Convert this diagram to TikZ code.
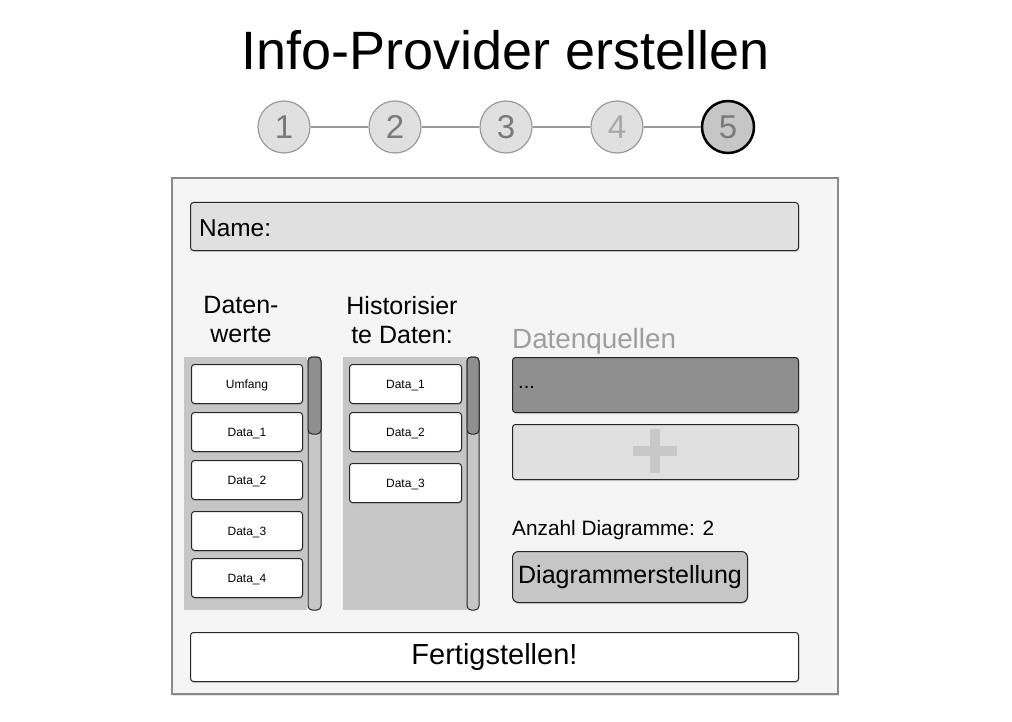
\documentclass[tikz,border=0pt]{standalone}
\usepackage{fontspec}
\setmainfont{Liberation Sans}
\usetikzlibrary{shadows}
\definecolor{panelbg}{HTML}{F5F5F5}
\definecolor{panelbd}{HTML}{8A8A8A}
\definecolor{fieldbg}{HTML}{E0E0E0}
\definecolor{listbg}{HTML}{C6C6C6}
\definecolor{darkbg}{HTML}{8F8F8F}
\definecolor{stepbd}{HTML}{9A9A9A}
\definecolor{steptx}{HTML}{7A7A7A}
\definecolor{steptxl}{HTML}{A8A8A8}
\definecolor{plusc}{HTML}{C8C8C8}
\definecolor{srcgray}{HTML}{9E9E9E}
\tikzset{
  shd/.style={drop shadow={shadow xshift=0.8pt, shadow yshift=-1.6pt, opacity=0.25}},
  box/.style={draw=black!85, line width=1, rounded corners=3, anchor=north west, inner sep=0, shd},
  item/.style={box, fill=white, minimum width=111, minimum height=39, text height=9pt, text depth=0pt, font=\fontsize{12pt}{14pt}\selectfont},
  stepc/.style={circle, draw=stepbd, fill=fieldbg, line width=1.2, minimum size=52, inner sep=0, text=steptx, font=\fontsize{33pt}{36pt}\selectfont},
  lbl/.style={align=center, font=\fontsize{25pt}{29pt}\selectfont},
  plain/.style={anchor=north west, inner sep=0, outer sep=0},
  track/.style={plain, draw=black!85, line width=1, rounded corners=4, fill=listbg},
  thumb/.style={plain, draw=black!85, line width=1, rounded corners=4, fill=darkbg}
}
\begin{document}
\begin{tikzpicture}[x=1pt,y=-1pt]
\useasboundingbox (0,0) rectangle (1012,722);
\fill[white] (0,0) rectangle (1012,722);
% title
\node[anchor=base, inner sep=0, font=\fontsize{54pt}{60pt}\selectfont] (title) at (506,70) {Info-Provider erstellen};
% steps
\node[stepc] (s1) at (284,127) {1};
\node[stepc] (s2) at (395,127) {2};
\node[stepc] (s3) at (506,127) {3};
\node[stepc, text=steptxl] (s4) at (617,127) {4};
\node[stepc, fill=listbg, draw=black, line width=2.5] (s5) at (728,127) {5};
\draw[stepbd, line width=1.5] (s1) -- (s2) (s2) -- (s3) (s3) -- (s4) (s4) -- (s5);
% panel
\node[plain, draw=panelbd, fill=panelbg, line width=2, minimum width=666, minimum height=516, drop shadow={shadow xshift=1pt, shadow yshift=-1.5pt, opacity=0.2}] (panel) at (172,178) {};
% name field
\node[box, fill=fieldbg, minimum width=608, minimum height=48] (name) at (190,202) {};
\node[anchor=west, inner sep=0, font=\fontsize{24.4pt}{28pt}\selectfont] (namet) at (199,228) {Name:};
% column labels
\node[lbl] (lab1) at (241,320) {Daten-\\werte};
\node[lbl] (lab2) at (402,320) {Historisier\\te Daten:};
% left list
\node[plain, fill=listbg, minimum width=123, minimum height=253] (lbg) at (184,357) {};
\node[track, minimum width=13, minimum height=253] (ltrack) at (308,357) {};
\node[thumb, minimum width=13, minimum height=77] (lthumb) at (308,357) {};
\node[item] (l0) at (191,364) {Umfang};
\node[item] (l1) at (191,412) {Data\_1};
\node[item] (l2) at (191,460) {Data\_2};
\node[item] (l3) at (191,511) {Data\_3};
\node[item] (l4) at (191,558) {Data\_4};
% right list
\node[plain, fill=listbg, minimum width=124, minimum height=253] (rbg) at (343,357) {};
\node[track, minimum width=12, minimum height=253] (rtrack) at (467,357) {};
\node[thumb, minimum width=12, minimum height=77] (rthumb) at (467,357) {};
\node[item, minimum width=112] (r1) at (349,364) {Data\_1};
\node[item, minimum width=112] (r2) at (349,412) {Data\_2};
\node[item, minimum width=112] (r3) at (349,463) {Data\_3};
% data sources
\node[anchor=base west, inner sep=0, text=srcgray, font=\fontsize{27.8pt}{32pt}\selectfont] (srct) at (512,348) {Datenquellen};
\node[box, fill=darkbg, minimum width=286, minimum height=55] (dots) at (512,357) {};
\node[anchor=base west, inner sep=0, font=\fontsize{20pt}{24pt}\selectfont] (dotst) at (518,388) {...};
\node[box, fill=fieldbg, minimum width=286, minimum height=55] (plusbox) at (512,424) {};
\fill[plusc] (633,446) rectangle (677,456);
\fill[plusc] (650,429) rectangle (660,473);
\node[anchor=west, inner sep=0, font=\fontsize{20.8pt}{24pt}\selectfont] (anz) at (512,530) {Anzahl Diagramme: 2};
\node[box, fill=listbg, rounded corners=6, minimum width=235, minimum height=51] (diag) at (512,551) {};
\node[inner sep=0, font=\fontsize{25pt}{29pt}\selectfont] (diagt) at (diag.center) {Diagrammerstellung};
% finish
\node[box, fill=white, minimum width=608, minimum height=49, font=\fontsize{29pt}{33pt}\selectfont] (fin) at (190,632) {Fertigstellen!};
\end{tikzpicture}
\end{document}
